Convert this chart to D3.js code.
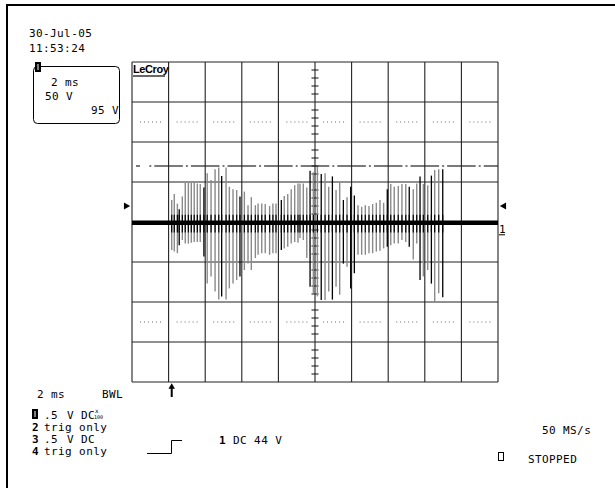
<!DOCTYPE html>
<html>
<head>
<meta charset="utf-8">
<script src="https://cdn.jsdelivr.net/npm/d3@7/dist/d3.min.js"></script>
<style>
  body { margin: 0; background: #fff; }
  svg { display: block; }
  text { font-family: "DejaVu Sans Mono", monospace; font-size: 11px; fill: #000; letter-spacing: 0.4px; white-space: pre; }
</style>
</head>
<body>
<svg width="615" height="488"></svg>
<script>
// burst of spikes, time in ms, peaks in volts (50 V/div)
var spikeTime = [2.17,2.31,2.48,2.58,2.75,2.91,3.08,3.24,3.40,3.57,
    3.73,3.93,4.11,4.32,4.54,4.74,4.90,5.14,5.32,5.52,
    5.72,5.90,6.14,6.34,6.52,6.74,6.89,7.09,7.28,7.52,
    7.70,7.87,8.16,8.32,8.51,8.70,8.89,9.07,
    9.18,9.36,9.55,9.73,9.91,10.13,10.34,10.55,10.75,10.95,
    11.15,11.35,11.55,11.75,11.95,12.15,12.35,12.55,12.75,12.95,
    13.15,13.35,13.55,13.75,13.95,14.14,14.33,14.55,14.75,14.96,
    15.15,15.37,15.56,15.74,15.92,16.16,16.36,16.54,16.76,16.98];
var spikeHigh = [27.5,35,23,16,32,49,49,49,49,48,47.5,43,61,52.5,66,68,57.5,68,44,41,
    40,32,38,21,31,21,23,23,22.5,20,23,23,27.5,32.5,35,41,46,48,
    48,48,43,64,62,69,60,61,44,57,40,49,27.5,31,44,33,21,19,21,20,
    22.5,24,27.5,24,41,47.5,44,45,47.5,47.5,44,41,48,57,47.5,46,58,65,66,66];
var spikeLow = [-35,-37,-39,-29,-22.5,-27,-27,-26,-25,-25,-25,-43,-77,-68,-87,-97,-93,-97,-83,-77,
    -72.5,-68,-60,-52,-60,-45,-41,-39,-39,-41,-39,-39,-35,-33,-31,-27,-25,-26,
    -20,-22.5,-45,-81,-89,-93,-97.5,-97.5,-87,-97,-81,-91,-52,-56,-83,-64,-41,-41,-41,-39,
    -39,-37,-36,-33,-31,-29,-27,-27,-22.5,-25,-31,-47,-27,-72.5,-68,-60,-77,-100,-89,-94];
var darkSpikes = [3,11,16,21,32,41,44,47,50,52,53,62,68,71,74,77];

var timeDivs = d3.range(0, 21, 2);        // 2 ms/div
var voltDivs = d3.range(-200, 201, 50);   // 50 V/div
var dottedLevels = [125, -125];
var cursorLevel = 70;
var markerLevel = 20;
var triggerTime = 2.17;

var stamp = ["30-Jul-05", "11:53:24"];
var boxLines = ["2 ms", "50 V", "95 V"];
var channelRows = [
    {n: "1", parts: [".5", "V", "DC"]},
    {n: "2", parts: ["trig only"]},
    {n: "3", parts: [".5", "V", "DC"]},
    {n: "4", parts: ["trig only"]}
];

var svg = d3.select("svg");

// outer frame
svg.append("path").attr("d", "M7,488V5H615").attr("fill", "none")
    .attr("stroke", "#000").attr("stroke-width", 2);

var x = d3.scaleLinear().domain([0, 20]).range([132, 498]);
var y = d3.scaleLinear().domain([-200, 200]).range([382, 62]);

var grid = svg.append("g").attr("stroke", "#222").attr("stroke-width", 1.1);
grid.selectAll("line.v").data(timeDivs).enter().append("line")
    .attr("x1", function(d) { return x(d); }).attr("x2", function(d) { return x(d); })
    .attr("y1", y(200)).attr("y2", y(-200));
grid.selectAll("line.h").data(voltDivs).enter().append("line")
    .attr("x1", x(0)).attr("x2", x(20))
    .attr("y1", function(d) { return y(d); }).attr("y2", function(d) { return y(d); });

// ruler ticks on the centre vertical
var ticks = d3.range(-200, 201, 10).filter(function(d) { return d % 50 != 0; });
grid.selectAll("line.t").data(ticks).enter().append("line")
    .attr("x1", x(10) - 3.5).attr("x2", x(10) + 3.5)
    .attr("y1", function(d) { return y(d); }).attr("y2", function(d) { return y(d); });

// dotted lines, one run per division
var dots = svg.append("g").attr("stroke", "#666").attr("stroke-width", 1)
    .attr("stroke-dasharray", "1,3");
dottedLevels.forEach(function(lv) {
    dots.selectAll(null).data(d3.range(0, 20, 2)).enter().append("line")
        .attr("x1", function(d) { return x(d) + 8; }).attr("x2", function(d) { return x(d) + 30; })
        .attr("y1", y(lv)).attr("y2", y(lv));
});

// dash-dot cursor: dot at each mid-division, dash between
var mids = d3.range(1, 20, 2);
var cur = svg.append("g").attr("stroke", "#222").attr("stroke-width", 1.2);
cur.selectAll("line.d").data(mids).enter().append("line")
    .attr("x1", function(d) { return x(d) - 1; }).attr("x2", function(d) { return x(d) + 1; })
    .attr("y1", y(cursorLevel)).attr("y2", y(cursorLevel));
cur.selectAll("line.m").data(mids).enter().append("line")
    .attr("x1", function(d) { return x(d) + 4; })
    .attr("x2", function(d) { return Math.min(x(d + 2) - 4, x(20)); })
    .attr("y1", y(cursorLevel)).attr("y2", y(cursorLevel));
cur.append("line").attr("x1", x(0) + 4).attr("x2", x(0) + 8)
    .attr("y1", y(cursorLevel)).attr("y2", y(cursorLevel));

// spikes
var spikes = spikeTime.map(function(t, i) {
    return {t: t, hi: spikeHigh[i], lo: spikeLow[i], dark: darkSpikes.indexOf(i) >= 0};
});
var sg = svg.append("g");
sg.selectAll("line.g").data(spikes.filter(function(d) { return !d.dark; })).enter().append("line")
    .attr("x1", function(d) { return x(d.t); }).attr("x2", function(d) { return x(d.t); })
    .attr("y1", function(d) { return y(d.hi); }).attr("y2", function(d) { return y(d.lo); })
    .attr("stroke", "#8a8a8a").attr("stroke-width", 1.4);
sg.selectAll("line.k").data(spikes.filter(function(d) { return d.dark; })).enter().append("line")
    .attr("x1", function(d) { return x(d.t); }).attr("x2", function(d) { return x(d.t); })
    .attr("y1", function(d) { return y(d.hi); }).attr("y2", function(d) { return y(d.lo); })
    .attr("stroke", "#000").attr("stroke-width", 1.3);
sg.selectAll("line.s").data(spikes).enter().append("line")
    .attr("x1", function(d) { return x(d.t); }).attr("x2", function(d) { return x(d.t); })
    .attr("y1", y(9)).attr("y2", y(-13))
    .attr("stroke", "#000").attr("stroke-width", 1.2);

// baseline trace
svg.append("line").attr("x1", x(0)).attr("x2", x(20))
    .attr("y1", y(-1)).attr("y2", y(-1))
    .attr("stroke", "#000").attr("stroke-width", 4.5);

// level markers and channel label
svg.append("path").attr("d", d3.symbol(d3.symbolTriangle, 22)())
    .attr("transform", "translate(" + (x(0) - 6) + "," + y(markerLevel) + ") rotate(90)");
svg.append("path").attr("d", d3.symbol(d3.symbolTriangle, 22)())
    .attr("transform", "translate(" + (x(20) + 6) + "," + y(markerLevel) + ") rotate(-90)");
svg.append("text").attr("x", x(20) + 1).attr("y", y(-14)).text("1");
svg.append("line").attr("x1", x(20) + 1).attr("x2", x(20) + 7)
    .attr("y1", y(-16)).attr("y2", y(-16)).attr("stroke", "#000");

// trigger arrow
svg.append("line").attr("x1", x(triggerTime)).attr("x2", x(triggerTime))
    .attr("y1", 386).attr("y2", 397).attr("stroke", "#000").attr("stroke-width", 2);
svg.append("path").attr("d", d3.symbol(d3.symbolTriangle, 18)())
    .attr("transform", "translate(" + x(triggerTime) + ",387)");

// LeCroy badge
svg.append("text").attr("x", 133).attr("y", 73).text("LeCroy")
    .style("font-family", "Liberation Sans Narrow, Liberation Sans, sans-serif")
    .style("font-weight", "bold").style("font-size", "11px").style("letter-spacing", "-0.4px");
svg.append("line").attr("x1", 133).attr("x2", 165).attr("y1", 76).attr("y2", 76)
    .attr("stroke", "#000").attr("stroke-width", 1.2);

// date/time
svg.selectAll("text.stamp").data(stamp).enter().append("text")
    .attr("x", 29).attr("y", function(d, i) { return 37 + i * 15; }).text(function(d) { return d; });

// channel box
svg.append("rect").attr("x", 33.5).attr("y", 66.5).attr("width", 86).attr("height", 57)
    .attr("rx", 4).attr("fill", "none").attr("stroke", "#000").attr("stroke-width", 1);
function chanBadge(cx, cy) {
    svg.append("rect").attr("x", cx).attr("y", cy).attr("width", 6).attr("height", 10).attr("fill", "#000");
    svg.append("line").attr("x1", cx + 3).attr("x2", cx + 3).attr("y1", cy + 2).attr("y2", cy + 8)
        .attr("stroke", "#fff").attr("stroke-width", 1);
}
chanBadge(35, 62);
svg.append("text").attr("x", 51).attr("y", 86).text(boxLines[0]);
svg.append("text").attr("x", 45).attr("y", 100).text(boxLines[1]);
svg.append("text").attr("x", 119).attr("y", 114).attr("text-anchor", "end").text(boxLines[2]);

// bottom status
svg.append("text").attr("x", 37).attr("y", 398).text("2 ms");
svg.append("text").attr("x", 102).attr("y", 398).text("BWL");
var partX = [44, 67, 81];
channelRows.forEach(function(r, i) {
    var by = 418.5 + i * 12.3;
    if (i == 0) chanBadge(32, by - 9.5);
    else svg.append("text").attr("x", 32).attr("y", by).style("font-weight", "bold").text(r.n);
    r.parts.forEach(function(p, j) {
        svg.append("text").attr("x", partX[j]).attr("y", by).text(p);
    });
});
svg.append("text").attr("x", 95).attr("y", 413).text("x").style("font-size", "6px");
svg.append("text").attr("x", 94).attr("y", 419).text("100").style("font-size", "5px").style("letter-spacing", "0");

// trigger symbol
svg.append("path").attr("d", "M147,453.5H171.5V440.5H182").attr("fill", "none")
    .attr("stroke", "#000").attr("stroke-width", 1);
svg.append("text").attr("x", 219).attr("y", 444)
    .html('<tspan font-weight="bold">1</tspan> DC 44 V');

svg.append("text").attr("x", 542).attr("y", 434).text("50 MS/s");
svg.append("rect").attr("x", 498.5).attr("y", 452.5).attr("width", 5).attr("height", 8)
    .attr("fill", "none").attr("stroke", "#000");
svg.append("text").attr("x", 528).attr("y", 463).text("STOPPED");
</script>
</body>
</html>
